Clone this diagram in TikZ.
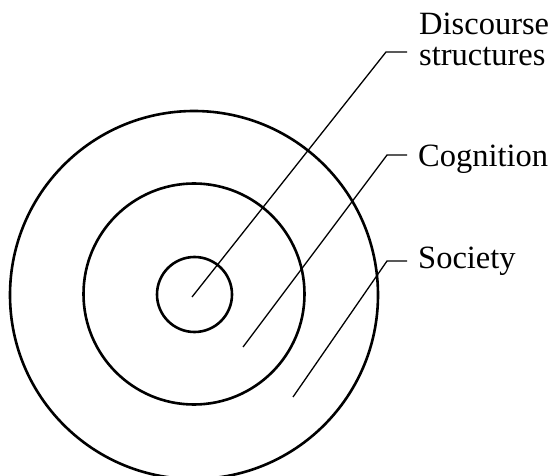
\documentclass[tikz,border=0pt]{standalone}
\usepackage{fontspec}
\setmainfont{Liberation Serif}
\begin{document}
\begin{tikzpicture}[x=1pt,y=-1pt,
  ring/.style={circle,draw,line width=2.6pt,inner sep=0pt,minimum size=#1},
  leader/.style={line width=1.3pt},
  lbl/.style={inner sep=0pt,font=\fontsize{32.5}{30}\selectfont,align=left}]
\useasboundingbox (0,0) rectangle (552,476);
\node[ring=368pt] (outer) at (194,295) {};
\node[ring=221pt] (middle) at (194,294) {};
\node[ring=75pt] (inner) at (194.5,294.5) {};
% leader start points, kinks and ends
\coordinate (s1) at (192,297);
\coordinate (k1) at (386,52);
\coordinate (e1) at (407,52);
\coordinate (s2) at (243,347);
\coordinate (k2) at (387,155);
\coordinate (e2) at (407,155);
\coordinate (s3) at (293,397);
\coordinate (k3) at (387,261);
\coordinate (e3) at (407,261);
\draw[leader] (s1) -- (k1) -- (e1);
\draw[leader] (s2) -- (k2) -- (e2);
\draw[leader] (s3) -- (k3) -- (e3);
\node[lbl,anchor=base west] (disc) at (419,66) {Discourse\\[1pt]structures};
\node[lbl,anchor=base west] (cog) at (418,167) {Cognition};
\node[lbl,anchor=base west] (soc) at (418,268) {Society};
\end{tikzpicture}
\end{document}
